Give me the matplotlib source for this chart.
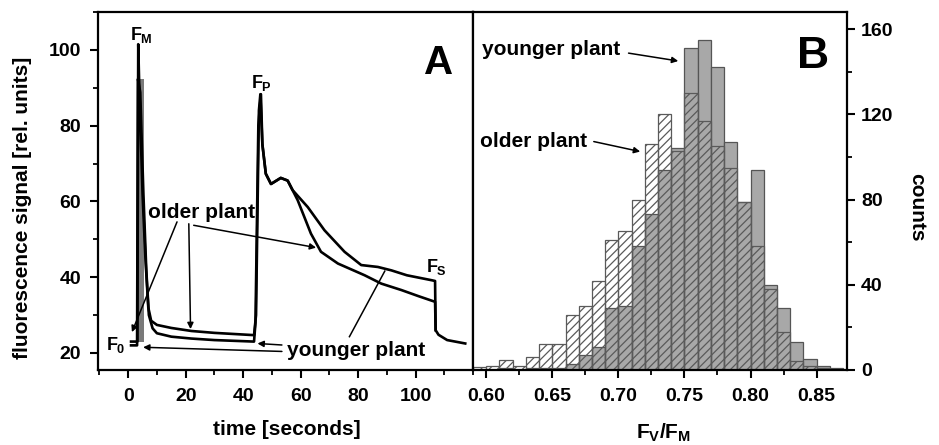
import matplotlib as mpl
import matplotlib.pyplot as plt
from matplotlib.ticker import MultipleLocator

mpl.rcParams['font.family'] = 'Liberation Sans'
mpl.rcParams['font.weight'] = 'bold'
mpl.rcParams['axes.labelweight'] = 'bold'
mpl.rcParams['mathtext.fontset'] = 'custom'
mpl.rcParams['mathtext.rm'] = 'Liberation Sans:bold'
mpl.rcParams['mathtext.bf'] = 'Liberation Sans:bold'
mpl.rcParams['mathtext.it'] = 'Liberation Sans:bold'
mpl.rcParams['hatch.linewidth'] = 0.9

# --- panel A: induction curves, time [s] vs signal [rel. units]
t_old = [1.0, 3.2, 3.5, 3.8, 5.0, 6.0, 7.0, 8.0, 10, 15, 22, 30, 43.8,
         44.5, 45.5, 46.0, 46.7, 47.9, 49.7, 53.1, 55.5, 57.2, 59.0, 63.6,
         67.1, 73.0, 82.3, 88.1, 95.1, 101.0, 106.8, 107.0, 108.0, 111.0,
         117.3]
f_old = [23.0, 23.0, 101.5, 92.0, 62.0, 45.0, 32.0, 28.5, 27.4, 26.6,
         25.8, 25.3, 24.7, 30.0, 84.0, 88.3, 75.0, 67.3, 64.6, 66.2, 65.5,
         63.0, 60.3, 51.5, 46.7, 43.6, 40.5, 38.3, 36.6, 35.0, 33.5, 26.0,
         24.8, 23.4, 22.5]
t_young = [1.0, 3.1, 3.4, 4.2, 5.3, 6.3, 7.2, 8.5, 10, 15, 22, 30, 43.8,
           44.3, 45.3, 46.2, 46.7, 47.9, 49.7, 53.1, 55.5, 57.2, 62.5, 68.3,
           75.3, 81.1, 86.9, 91.6, 97.0, 105.6, 106.8, 107.0]
f_young = [22.0, 22.0, 92.3, 88.8, 62.0, 42.0, 30.0, 26.5, 25.2, 24.3,
           23.8, 23.4, 23.0, 28.0, 80.0, 88.3, 75.2, 67.3, 64.6, 66.2, 65.5,
           63.0, 58.5, 52.4, 46.7, 43.2, 42.7, 41.8, 40.5, 39.2, 39.0, 26.0]
flash_t = [3.1, 5.4]
flash_top = 92.3
flash_base = 23.0

# --- panel B: Fv/Fm histograms
bin_left = [0.59, 0.60, 0.61, 0.62, 0.63, 0.64, 0.65, 0.66, 0.67, 0.68,
            0.69, 0.70, 0.71, 0.72, 0.73, 0.74, 0.75, 0.76, 0.77, 0.78,
            0.79, 0.80, 0.81, 0.82, 0.83, 0.84, 0.85, 0.86]
counts_younger = [0, 0, 1, 0, 1, 1, 1, 3, 7, 11, 29, 30, 58, 73, 94, 104,
                  151, 155, 142, 107, 79, 94, 40, 29, 13, 5, 2, 1]
counts_older = [1.5, 2, 4.5, 2, 6, 12, 12, 26, 30, 42, 61, 65, 80, 106, 120,
                103, 130, 117, 105, 95, 79, 58, 38, 18, 4, 2, 1, 0.5]
bin_width = 0.01

fig = plt.figure(figsize=(9.39, 4.45), dpi=100)
ax1 = fig.add_axes([98/939, 1-370/445, 375/939, 358/445])
ax2 = fig.add_axes([473/939, 1-370/445, 374/939, 358/445])

for ax in (ax1, ax2):
    for s in ax.spines.values():
        s.set_linewidth(1.6)
    ax.tick_params(which='major', direction='out', length=6, width=1.5,
                   labelsize=14)
    ax.tick_params(which='minor', direction='out', length=3.5, width=1.3)

# panel A
ax1.fill_between(flash_t, flash_base, flash_top, color='#7a7a7a', lw=0)
ax1.plot(t_old, f_old, c='k', lw=1.9)
ax1.plot(t_young, f_young, c='k', lw=1.9)
ax1.set_xlim(-10.5, 120)
ax1.set_ylim(15.5, 110)
ax1.xaxis.set_major_locator(mpl.ticker.FixedLocator([0, 20, 40, 60, 80, 100]))
ax1.xaxis.set_minor_locator(MultipleLocator(10))
ax1.yaxis.set_major_locator(MultipleLocator(20))
ax1.yaxis.set_minor_locator(MultipleLocator(10))
ax1.tick_params(axis='x', pad=7)
ax1.tick_params(axis='y', pad=6)
ax1.set_xlabel('time [seconds]', fontsize=15)
ax1.xaxis.set_label_coords(0.503, -0.14)
ax1.set_ylabel('fluorescence signal [rel. units]', fontsize=15, va='center')
ax1.yaxis.set_label_coords(-0.2, 0.454)

ax1.text(0.907, 0.858, 'A', transform=ax1.transAxes, fontsize=29,
         ha='center', va='center')
ax1.text(0.7, 103.8, r'$F_M$', fontsize=13, ha='left', va='center')
ax1.text(42.7, 91.3, r'$F_P$', fontsize=13, ha='left', va='center')
ax1.text(103.8, 42.6, r'$F_S$', fontsize=13, ha='left', va='center')
ax1.text(-7.7, 22.2, r'$F_0$', fontsize=13, ha='left', va='center')

arw = dict(arrowstyle='-|>', color='k', lw=1.1, mutation_scale=9,
           shrinkA=0, shrinkB=0)
ax1.text(25.7, 57.2, 'older plant', fontsize=15, ha='center', va='center')
ax1.annotate('', xy=(1.3, 25.5), xytext=(17.0, 54.6), arrowprops=arw)
ax1.annotate('', xy=(21.7, 26.3), xytext=(21.1, 54.1), arrowprops=arw)
ax1.annotate('', xy=(65.4, 47.8), xytext=(22.8, 53.7), arrowprops=arw)
ax1.text(79.4, 20.6, 'younger plant', fontsize=15, ha='center', va='center')
ax1.annotate('', xy=(45.0, 22.5), xytext=(53.5, 22.1), arrowprops=arw)
ax1.annotate('', xy=(5.2, 21.5), xytext=(53.5, 20.4), arrowprops=arw)
ax1.plot([77.0, 89.3], [24.3, 41.6], c='k', lw=1.1)

# panel B
ax2.bar(bin_left, counts_younger, width=bin_width, align='edge',
        color='#a8a8a8', edgecolor='#555555', lw=0.9)
ax2.bar(bin_left, counts_older, width=bin_width, align='edge',
        fill=False, hatch='////', edgecolor='#5a5a5a', lw=0.9)
ax2.set_xlim(0.59, 0.873)
ax2.set_ylim(0, 168)
ax2.xaxis.set_major_locator(MultipleLocator(0.05))
ax2.xaxis.set_minor_locator(MultipleLocator(0.025))
ax2.xaxis.set_major_formatter(mpl.ticker.FormatStrFormatter('%.2f'))
ax2.yaxis.tick_right()
ax2.yaxis.set_major_locator(MultipleLocator(40))
ax2.yaxis.set_minor_locator(MultipleLocator(20))
ax2.tick_params(axis='x', pad=7)
ax2.tick_params(axis='y', pad=4)
ax2.set_xlabel(r'$F_V/F_M$', fontsize=15)
ax2.xaxis.set_label_coords(0.508, -0.145)
ax2.yaxis.set_label_position('right')
ax2.set_ylabel('counts', fontsize=15, rotation=270, va='center')
ax2.yaxis.set_label_coords(1.186, 0.456)

ax2.text(0.91, 0.875, 'B', transform=ax2.transAxes, fontsize=32,
         ha='center', va='center')
ax2.text(0.6489, 150.2, 'younger plant', fontsize=15, ha='center',
         va='center')
ax2.annotate('', xy=(0.7453, 145.0), xytext=(0.7077, 148.7), arrowprops=arw)
ax2.text(0.6356, 107.2, 'older plant', fontsize=15, ha='center', va='center')
ax2.annotate('', xy=(0.7165, 102.5), xytext=(0.6814, 107.2), arrowprops=arw)

plt.savefig('out.png', dpi=100)
